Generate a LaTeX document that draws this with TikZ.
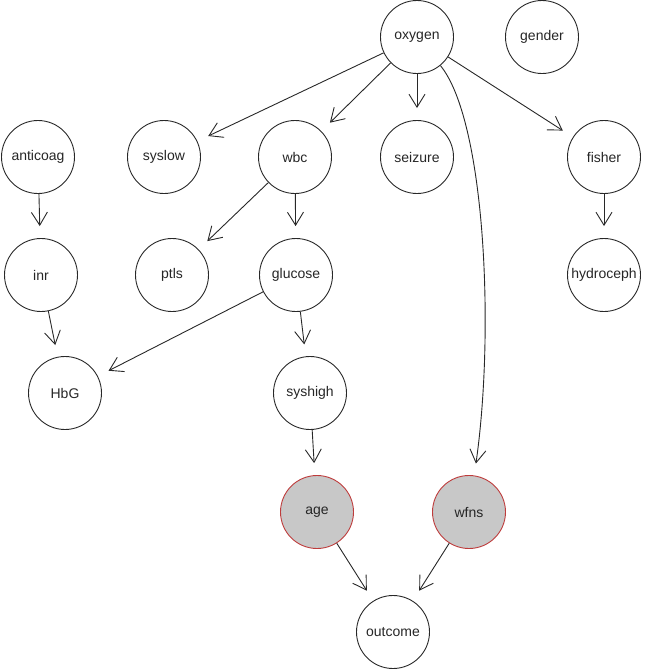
\documentclass[tikz,border=0pt]{standalone}
\usepackage{fontspec}
\setmainfont{Liberation Sans}
\usetikzlibrary{arrows.meta}
\definecolor{linecol}{RGB}{40,40,40}
\definecolor{greyfill}{RGB}{200,200,200}
\definecolor{redborder}{RGB}{190,60,60}
\tikzset{
  var/.style={circle, draw=linecol, line width=0.9pt, minimum size=73pt, inner sep=0pt,
    font=\fontsize{14}{16}\selectfont, text=black!85},
  obs/.style={var, fill=greyfill, draw=redborder},
  edge/.style={draw=linecol, line width=0.9pt, shorten >=12pt,
    -{Straight Barb[length=13pt, width=16pt, line width=0.9pt]}}
}
\begin{document}
\begin{tikzpicture}[x=1pt, y=-1pt]
\useasboundingbox (0,0) rectangle (649,672);
\node[var] (oxygen) at (417,37) {oxygen};
\node[var] (gender) at (542,37) {gender};
\node[var] (anticoag) at (38,157) {anticoag};
\node[var] (syslow) at (164,157) {syslow};
\node[var] (wbc) at (295,157) {wbc};
\node[var] (seizure) at (417,157) {seizure};
\node[var] (fisher) at (604,157) {fisher};
\node[var] (inr) at (41,275) {inr};
\node[var] (ptls) at (172,275) {ptls};
\node[var] (glucose) at (296,275) {glucose};
\node[var] (hydroceph) at (604,275) {hydroceph};
\node[var] (HbG) at (65,393) {HbG};
\node[var] (syshigh) at (310,393) {syshigh};
\node[obs] (age) at (317,512) {age};
\node[obs] (wfns) at (469,512) {wfns};
\node[var] (outcome) at (393,632) {outcome};

\draw[edge] (oxygen) -- (syslow);
\draw[edge] (oxygen) -- (wbc);
\draw[edge] (oxygen) -- (seizure);
\draw[edge] (oxygen) -- (fisher);
\draw[edge] (oxygen) .. controls (485,120) and (495,330) .. (wfns);
\draw[edge] (anticoag) -- (inr);
\draw[edge] (inr) -- (HbG);
\draw[edge] (wbc) -- (ptls);
\draw[edge] (wbc) -- (glucose);
\draw[edge] (glucose) -- (HbG);
\draw[edge] (glucose) -- (syshigh);
\draw[edge] (syshigh) -- (age);
\draw[edge] (fisher) -- (hydroceph);
\draw[edge] (age) -- (outcome);
\draw[edge] (wfns) -- (outcome);
\end{tikzpicture}
\end{document}
